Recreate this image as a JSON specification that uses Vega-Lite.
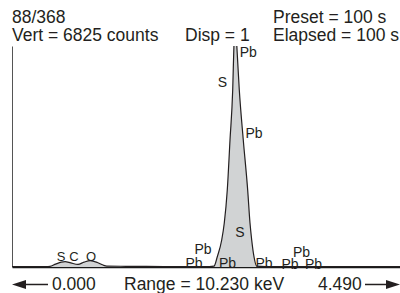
{
  "$schema": "https://vega.github.io/schema/vega-lite/v6.json",
  "width": 388,
  "height": 221,
  "padding": {"left": 12, "top": 46, "right": 0, "bottom": 26},
  "autosize": {"type": "none"},
  "background": "white",
  "config": {"view": {"stroke": null}, "font": "Liberation Sans"},
  "datasets": {
    "spectrum": [
      {"kev": 0.0, "counts": 12},
      {"kev": 0.9, "counts": 12},
      {"kev": 1.0, "counts": 20},
      {"kev": 1.15, "counts": 90},
      {"kev": 1.3, "counts": 150},
      {"kev": 1.4, "counts": 165},
      {"kev": 1.55, "counts": 125},
      {"kev": 1.74, "counts": 80},
      {"kev": 1.9, "counts": 150},
      {"kev": 2.06, "counts": 195},
      {"kev": 2.25, "counts": 140},
      {"kev": 2.4, "counts": 60},
      {"kev": 2.5, "counts": 28},
      {"kev": 3.0, "counts": 22},
      {"kev": 4.0, "counts": 16},
      {"kev": 4.8, "counts": 12},
      {"kev": 5.2, "counts": 14},
      {"kev": 5.326, "counts": 25},
      {"kev": 5.413, "counts": 318},
      {"kev": 5.529, "counts": 834},
      {"kev": 5.597, "counts": 1359},
      {"kev": 5.676, "counts": 2378},
      {"kev": 5.748, "counts": 3922},
      {"kev": 5.819, "counts": 5466},
      {"kev": 5.853, "counts": 6900},
      {"kev": 5.888, "counts": 7600},
      {"kev": 5.924, "counts": 6900},
      {"kev": 5.993, "counts": 5466},
      {"kev": 6.098, "counts": 3922},
      {"kev": 6.214, "counts": 2378},
      {"kev": 6.275, "counts": 1359},
      {"kev": 6.32, "counts": 834},
      {"kev": 6.38, "counts": 318},
      {"kev": 6.451, "counts": 25},
      {"kev": 6.7, "counts": 12},
      {"kev": 8.0, "counts": 10},
      {"kev": 10.23, "counts": 10}
    ],
    "peakLabels": [
      {"kev": 6.23, "counts": 6485, "label": "Pb"},
      {"kev": 5.55, "counts": 5568, "label": "S"},
      {"kev": 6.38, "counts": 3975, "label": "Pb"},
      {"kev": 6.011, "counts": 936, "label": "S"},
      {"kev": 5.036, "counts": 401, "label": "Pb"},
      {"kev": 4.799, "counts": -46, "label": "Pb"},
      {"kev": 5.682, "counts": -46, "label": "Pb"},
      {"kev": 6.644, "counts": -46, "label": "Pb"},
      {"kev": 7.633, "counts": 324, "label": "Pb"},
      {"kev": 7.33, "counts": -62, "label": "Pb"},
      {"kev": 7.949, "counts": -62, "label": "Pb"}
    ],
    "lightLabels": [
      {"kev": 1.292, "counts": 185, "label": "S"},
      {"kev": 1.635, "counts": 185, "label": "C"},
      {"kev": 2.083, "counts": 185, "label": "O"}
    ],
    "notes": [
      {"kev": 0.0, "counts": 7535, "label": "88/368"},
      {"kev": 0.0, "counts": 6979, "label": "Vert = 6825 counts"},
      {"kev": 4.561, "counts": 6979, "label": "Disp = 1"},
      {"kev": 6.881, "counts": 7535, "label": "Preset = 100 s"},
      {"kev": 6.881, "counts": 6979, "label": "Elapsed = 100 s"},
      {"kev": 1.055, "counts": -710, "label": "0.000"},
      {"kev": 2.953, "counts": -710, "label": "Range = 10.230 keV"},
      {"kev": 8.068, "counts": -710, "label": "4.490"}
    ],
    "arrowLines": [
      {"kev": 0.185, "kev2": 0.949, "counts": -540},
      {"kev": 9.307, "kev2": 10.045, "counts": -540}
    ],
    "arrowHeadsLeft": [
      {"kev": 0.1846, "counts": -540}
    ],
    "arrowHeadsRight": [
      {"kev": 10.045, "counts": -540}
    ]
  },
  "encoding": {
    "x": {
      "field": "kev",
      "type": "quantitative",
      "scale": {"domain": [0, 10.23], "nice": false, "zero": false},
      "axis": {"domain": true, "domainColor": "#1a1a1a", "domainWidth": 1.5, "ticks": false, "labels": false, "grid": false, "title": null}
    },
    "y": {
      "field": "counts",
      "type": "quantitative",
      "scale": {"domain": [0, 6825], "nice": false, "zero": false},
      "axis": {"domain": true, "domainColor": "#555555", "domainWidth": 1, "ticks": false, "labels": false, "grid": false, "title": null}
    }
  },
  "layer": [
    {
      "data": {"name": "spectrum"},
      "mark": {"type": "area", "interpolate": "monotone", "color": "#d1d3d4", "clip": true}
    },
    {
      "data": {"name": "spectrum"},
      "mark": {"type": "line", "interpolate": "monotone", "color": "#231f20", "strokeWidth": 1.2, "clip": true}
    },
    {
      "data": {"name": "peakLabels"},
      "mark": {"type": "text", "fontSize": 14, "align": "center", "baseline": "alphabetic", "color": "#231f20"},
      "encoding": {"text": {"field": "label"}}
    },
    {
      "data": {"name": "lightLabels"},
      "mark": {"type": "text", "fontSize": 13, "align": "center", "baseline": "alphabetic", "color": "#231f20"},
      "encoding": {"text": {"field": "label"}}
    },
    {
      "data": {"name": "notes"},
      "mark": {"type": "text", "fontSize": 17.5, "align": "left", "baseline": "alphabetic", "color": "#231f20"},
      "encoding": {"text": {"field": "label"}}
    },
    {
      "data": {"name": "arrowLines"},
      "mark": {"type": "rule", "color": "#231f20", "strokeWidth": 1.5},
      "encoding": {"x2": {"field": "kev2"}}
    },
    {
      "data": {"name": "arrowHeadsLeft"},
      "mark": {"type": "point", "shape": "M-1,0L1,-0.65L1,0.65Z", "filled": true, "size": 196, "color": "#231f20", "opacity": 1}
    },
    {
      "data": {"name": "arrowHeadsRight"},
      "mark": {"type": "point", "shape": "M1,0L-1,-0.65L-1,0.65Z", "filled": true, "size": 196, "color": "#231f20", "opacity": 1}
    }
  ]
}
